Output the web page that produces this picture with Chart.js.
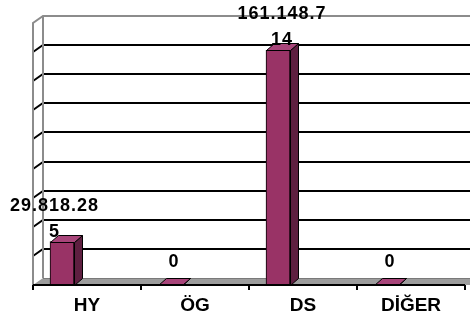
<!DOCTYPE html>
<html>
<head>
<meta charset="utf-8">
<script src="https://cdn.jsdelivr.net/npm/chart.js@4/dist/chart.umd.min.js"></script>
<style>
  html, body { margin: 0; padding: 0; background: #fff; }
  #wrap { width: 470px; height: 322px; }
</style>
</head>
<body>
<div id="wrap"><canvas id="barChart" width="470" height="322"></canvas></div>
<script>
const categories = ['HY', 'ÖG', 'DS', 'DİĞER'];
const values = [29818285, 0, 161148714, 0];
const yMax = 180000000;
const yStep = 20000000;

// depth of the 3d look
const depthX = 8, wallDx = 10, depthY = -7;
const frameShift = 25;

function fmt(v) {
    return String(v).replace(/\B(?=(\d{3})+(?!\d))/g, '.');
}
function wrapLabel(s) {
    let out = [];
    for (let i = 0; i < s.length; i += 9) out.push(s.slice(i, i + 9));
    return out;
}

const frame3d = {
    id: 'frame3d',
    beforeDatasetsDraw(chart) {
        const ctx = chart.ctx, a = chart.chartArea, ys = chart.scales.y;
        const L = a.left + frameShift, B = a.bottom, R = 470;
        ctx.save();
        // floor
        ctx.fillStyle = '#9c9c9c';
        ctx.beginPath();
        ctx.moveTo(L, B); ctx.lineTo(L + wallDx, B + depthY);
        ctx.lineTo(R, B + depthY); ctx.lineTo(R, B); ctx.closePath();
        ctx.fill();
        ctx.strokeStyle = '#7a7a7a'; ctx.lineWidth = 1;
        ctx.beginPath(); ctx.moveTo(L + wallDx, B + depthY + 0.5); ctx.lineTo(R, B + depthY + 0.5); ctx.stroke();
        // grid lines
        ctx.strokeStyle = '#000'; ctx.lineWidth = 2;
        for (let v = yStep; v < yMax; v += yStep) {
            const y = Math.round(ys.getPixelForValue(v));
            ctx.beginPath();
            ctx.moveTo(L, y); ctx.lineTo(L + wallDx, y + depthY); ctx.lineTo(R, y + depthY);
            ctx.stroke();
        }
        // left wall and top edge
        const T = Math.round(ys.getPixelForValue(yMax));
        ctx.strokeStyle = '#8c8c8c'; ctx.lineWidth = 2;
        ctx.beginPath();
        ctx.moveTo(L, B); ctx.lineTo(L, T); ctx.lineTo(L + wallDx, T + depthY); ctx.lineTo(R, T + depthY);
        ctx.moveTo(L + wallDx, T + depthY); ctx.lineTo(L + wallDx, B + depthY);
        ctx.stroke();
        ctx.restore();
    },
    afterDatasetsDraw(chart) {
        const ctx = chart.ctx, a = chart.chartArea, xs = chart.scales.x;
        const meta = chart.getDatasetMeta(0);
        ctx.save();
        ctx.strokeStyle = '#000'; ctx.lineWidth = 1;
        meta.data.forEach(function(bar) {
            const p = bar.getProps(['x', 'y', 'base', 'width'], true);
            const l = Math.round(p.x - p.width / 2) + 0.5, r = Math.round(p.x + p.width / 2) + 0.5;
            const y = Math.round(p.y) + 0.5, b = Math.round(p.base) + 0.5;
            // side
            ctx.fillStyle = '#5e1f40';
            ctx.beginPath();
            ctx.moveTo(r, y); ctx.lineTo(r + depthX, y + depthY); ctx.lineTo(r + depthX, b + depthY); ctx.lineTo(r, b);
            ctx.closePath(); ctx.fill(); ctx.stroke();
            // top
            ctx.fillStyle = '#a8457a';
            ctx.beginPath();
            ctx.moveTo(l, y); ctx.lineTo(l + depthX, y + depthY); ctx.lineTo(r + depthX, y + depthY); ctx.lineTo(r, y);
            ctx.closePath(); ctx.fill(); ctx.stroke();
        });
        // axis line and ticks
        const L = a.left + frameShift, B = a.bottom;
        ctx.lineWidth = 2;
        ctx.beginPath();
        ctx.moveTo(L, B); ctx.lineTo(a.right + frameShift, B);
        for (let i = 0; i <= categories.length; i++) {
            const x = Math.round(xs.getPixelForValue(i) - xs.width / categories.length / 2) + frameShift;
            ctx.moveTo(x, B); ctx.lineTo(x, B + 5);
        }
        ctx.stroke();
        // category labels
        ctx.fillStyle = '#000';
        ctx.font = 'bold 19px "Liberation Sans", Arial, sans-serif';
        ctx.textAlign = 'center'; ctx.textBaseline = 'middle';
        categories.forEach(function(c, i) {
            ctx.fillText(c, xs.getPixelForValue(i) + frameShift, 306);
        });
        // value labels
        ctx.font = 'bold 18px "Liberation Sans", Arial, sans-serif';
        ctx.letterSpacing = '1px';
        meta.data.forEach(function(bar, i) {
            const lines = wrapLabel(fmt(values[i]));
            let w = 0;
            lines.forEach(function(s) { w = Math.max(w, ctx.measureText(s).width); });
            let cx = bar.x + 4;
            // a label running into the side wall is pushed to the left edge
            if (cx - w / 2 < L + wallDx) cx = 10 + w / 2;
            const cy = bar.y - 23;
            lines.forEach(function(s, k) {
                ctx.fillText(s, cx, cy + (k - (lines.length - 1) / 2) * 26);
            });
        });
        ctx.restore();
    }
};

const ctx = document.getElementById('barChart').getContext('2d');
const barChart = new Chart(ctx, {
    type: 'bar',
    data: {
        labels: categories,
        datasets: [{
            data: values,
            backgroundColor: '#993366',
            borderColor: '#000',
            borderWidth: 1,
            barThickness: 24
        }]
    },
    options: {
        responsive: false,
        animation: false,
        layout: { padding: { left: 8, right: 30, top: 23, bottom: 37 } },
        plugins: { legend: { display: false }, tooltip: { enabled: false } },
        scales: {
            x: { display: false },
            y: { display: false, min: 0, max: yMax, ticks: { stepSize: yStep } }
        }
    },
    plugins: [frame3d]
});
</script>
</body>
</html>
